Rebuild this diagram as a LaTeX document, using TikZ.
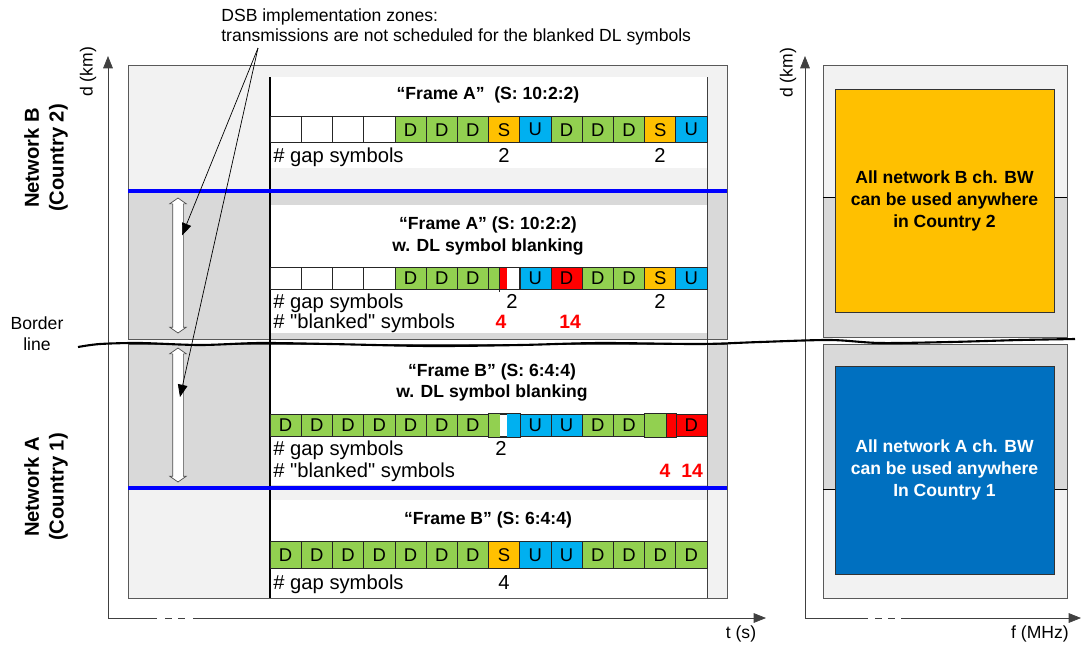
\documentclass[tikz,border=0pt]{standalone}
\usepackage{fontspec}
\setmainfont{Liberation Sans}
\usetikzlibrary{calc,positioning,arrows.meta,shapes.arrows}

\definecolor{dlGreen}{HTML}{92D050}
\definecolor{specOrange}{HTML}{FFC000}
\definecolor{ulBlue}{HTML}{00B0F0}
\definecolor{bwBlue}{HTML}{0070C0}
\definecolor{zoneLight}{HTML}{F2F2F2}
\definecolor{zoneDark}{HTML}{D9D9D9}
\definecolor{boxEdge}{HTML}{595959}
\definecolor{borderBlue}{HTML}{0000FF}

\begin{document}
\begin{tikzpicture}[x=0.02cm,y=-0.02cm,
    txt/.style={inner sep=0pt,font=\fontsize{11.5}{13}\selectfont},
    ttl/.style={inner sep=0pt,align=center,font=\bfseries\fontsize{10}{12.5}\selectfont},
    blanked/.style={inner sep=0pt,text=red,font=\bfseries\fontsize{11}{13}\selectfont},
    cell/.style={draw=black!85,inner sep=0pt,minimum width={31.2143*0.02cm},font=\fontsize{10.5}{12}\selectfont},
    axisline/.style={draw=black!75},
    zone/.style={double arrow,draw=black!70,fill=white,rotate=90,inner xsep=0pt,inner ysep={5*0.02cm},
      double arrow head extend={3*0.02cm},double arrow tip angle=110},
    bwbox/.style={draw=black!80,align=center,font=\bfseries\fontsize{10}{12.5}\selectfont},
    >={Triangle[length=7pt,width=5.5pt]}]

  \useasboundingbox (0,0) rectangle (1083,650);
  \def\cW{31.2143}

  % draw the zones of the time panel
  \fill[zoneLight] (128,65) rectangle (727,191);
  \fill[zoneDark] (128,191) rectangle (727,339);
  \fill[zoneDark] (128,344) rectangle (727,488);
  \fill[zoneLight] (128,488) rectangle (727,598);
  \draw[boxEdge] (128,65) rectangle (727,339);
  \draw[boxEdge] (128,344) rectangle (727,598);

  % white strips of the frames
  \foreach \ya/\yb in {77/168,205/333,345/485,500/598}
  \fill[white] (270,\ya) rectangle (707,\yb);
  \draw[black!75] (707,77) -- (707,598);
  \draw[line width=1pt] (270,77) -- (270,598);

  % network limits
  \foreach \yb in {191,488}
  \draw[borderBlue,line width=2pt] (128,\yb) -- (727,\yb);

  % draw the frame A
  \def\frameA{white/,white/,white/,white/,dlGreen/D,dlGreen/D,dlGreen/D,specOrange/S,ulBlue/U,dlGreen/D,dlGreen/D,dlGreen/D,specOrange/S,ulBlue/U}
  \foreach \fc/\sym [count=\ni] in \frameA
  \node[cell,fill=\fc,minimum height={26*0.02cm}] (fa\ni) at ({270+(\ni-0.5)*\cW},129.7) {\sym};
  \node[ttl] (ttlA) at (488,95) {``Frame A''\ \ (S: 10:2:2)};
  \node[txt,anchor=base west] (gapA) at (273,162.5) {\# gap symbols};
  \node[txt,anchor=base] (gapA1) at (504,162.5) {2};
  \node[txt,anchor=base] (gapA2) at (660,162.5) {2};

  % draw the frame A with blanking
  \def\frameAb{white/,white/,white/,white/,dlGreen/D,dlGreen/D,dlGreen/D,white/,ulBlue/U,red/D,dlGreen/D,dlGreen/D,specOrange/S,ulBlue/U}
  \foreach \fc/\sym [count=\ni] in \frameAb
  \node[cell,fill=\fc,minimum height={21.3*0.02cm}] (fab\ni) at ({270+(\ni-0.5)*\cW},278.35) {\sym};
  \fill[dlGreen] (488.5,267.7) rectangle (499.5,289);
  \fill[red] (499.5,267.7) rectangle (507,289);
  \draw[black!85] (499.5,267.7) -- (499.5,292);
  \draw[black!85] (fab8.north west) rectangle (fab8.south east);
  \node[ttl] (ttlAb) at (488,236) {``Frame A'' (S: 10:2:2)\\w. DL symbol blanking};
  \node[txt,anchor=base west] (gapAb) at (273,308) {\# gap symbols};
  \node[txt,anchor=base] (gapAb1) at (512,308) {2};
  \node[txt,anchor=base] (gapAb2) at (660,308) {2};
  \node[txt,anchor=base west] (blkAb) at (273,328) {\# \textquotedbl blanked\textquotedbl{} symbols};
  \node[blanked,anchor=base] (blkAb1) at (501,328) {4};
  \node[blanked,anchor=base] (blkAb2) at (570,328) {14};

  % draw the frame B with blanking
  \def\frameBb{dlGreen/D,dlGreen/D,dlGreen/D,dlGreen/D,dlGreen/D,dlGreen/D,dlGreen/D,white/,ulBlue/U,ulBlue/U,dlGreen/D,dlGreen/D,white/,red/D}
  \foreach \fc/\sym [count=\ni] in \frameBb
  \node[cell,fill=\fc,minimum height={22.7*0.02cm}] (fbb\ni) at ({270+(\ni-0.5)*\cW},425.35) {\sym};
  \fill[dlGreen] (488.5,414) rectangle (500,436.7);
  \fill[ulBlue] (507,414) rectangle (519.7,436.7);
  \draw[black!85] (fbb8.north west) rectangle (fbb8.south east);
  \fill[dlGreen] (644.6,414) rectangle (666,436.7);
  \fill[red] (666,414) rectangle (675.8,436.7);
  \draw[black!85] (666,414) -- (666,436.7);
  \draw[black!85] (fbb13.north west) rectangle (fbb13.south east);
  \node[ttl] (ttlBb) at (492,382.5) {``Frame B'' (S: 6:4:4)\\w. DL symbol blanking};
  \node[txt,anchor=base west] (gapBb) at (273,455) {\# gap symbols};
  \node[txt,anchor=base] (gapBb1) at (501,455) {2};
  \node[txt,anchor=base west] (blkBb) at (273,477) {\# \textquotedbl blanked\textquotedbl{} symbols};
  \node[blanked,anchor=base] (blkBb1) at (665,477) {4};
  \node[blanked,anchor=base] (blkBb2) at (692,477) {14};

  % draw the frame B
  \def\frameB{dlGreen/D,dlGreen/D,dlGreen/D,dlGreen/D,dlGreen/D,dlGreen/D,dlGreen/D,specOrange/S,ulBlue/U,ulBlue/U,dlGreen/D,dlGreen/D,dlGreen/D,dlGreen/D}
  \foreach \fc/\sym [count=\ni] in \frameB
  \node[cell,fill=\fc,minimum height={26.6*0.02cm}] (fb\ni) at ({270+(\ni-0.5)*\cW},555) {\sym};
  \node[ttl] (ttlB) at (488,520) {``Frame B'' (S: 6:4:4)};
  \node[txt,anchor=base west] (gapB) at (273,589) {\# gap symbols};
  \node[txt,anchor=base] (gapB1) at (504,589) {4};

  % draw the zones of the frequency panel
  \fill[zoneLight] (823,65) rectangle (1067,197);
  \fill[zoneDark] (823,197) rectangle (1067,337);
  \fill[zoneDark] (823,344) rectangle (1067,489);
  \fill[zoneLight] (823,489) rectangle (1067,598);
  \draw[boxEdge] (823,65) rectangle (1067,337);
  \draw[boxEdge] (823,344) rectangle (1067,598);
  \foreach \yb in {197,489}
  \draw (823,\yb) -- (1067,\yb);
  \node[bwbox,fill=specOrange,minimum width={219*0.02cm},minimum height={223*0.02cm}] (bwB) at (944.5,200.5)
    {All network B ch. BW\\can be used anywhere\\in Country 2};
  \node[bwbox,fill=bwBlue,text=white,minimum width={219*0.02cm},minimum height={208*0.02cm}] (bwA) at (944.5,470)
    {All network A ch. BW\\can be used anywhere\\In Country 1};

  % draw the axes
  \draw[axisline,<-] (108,56) -- (108,618) -- (157,618);
  \draw[axisline,<-] (805,56) -- (805,618) -- (868,618);
  \foreach \xa/\xb in {165/172,178/185,875/882,888/895}
  \draw[axisline] (\xa,618) -- (\xb,618);
  \draw[axisline,->] (193,618) -- (766,618);
  \draw[axisline,->] (901,618) -- (1081,618);
  \node[rotate=90,font=\fontsize{10}{12}\selectfont] (dT) at (88,72) {d (km)};
  \node[rotate=90,font=\fontsize{10}{12}\selectfont] (dF) at (788,73) {d (km)};
  \node[font=\fontsize{10}{12}\selectfont] (tAx) at (741,634) {t (s)};
  \node[font=\fontsize{10}{12}\selectfont] (fAx) at (1040,634) {f (MHz)};

  % the countries and the border
  \node[rotate=90,align=center,font=\bfseries\fontsize{11.5}{14}\selectfont] (netB) at (46,158) {Network B\\(Country 2)};
  \node[rotate=90,align=center,font=\bfseries\fontsize{11.5}{14}\selectfont] (netA) at (46,487) {Network A\\(Country 1)};
  \node[align=center,font=\fontsize{10}{12}\selectfont] (border) at (37,334) {Border\\line};
  \draw[line width=1.2pt] plot[smooth] coordinates {(78,347) (100,344) (140,343) (200,345) (260,343) (330,344)
    (430,346) (520,345) (600,343) (700,344) (760,342) (830,340) (880,343) (950,342) (1020,340) (1075,339)};

  % DSB zones
  \node[zone,minimum height={135*0.02cm}] (zoneB) at (178,265.5) {};
  \node[zone,minimum height={134*0.02cm}] (zoneA) at (178,415) {};
  \node[anchor=north west,align=left,inner sep=0pt,font=\fontsize{10}{11.5}\selectfont] (dsb) at (221,8)
    {DSB implementation zones:\\transmissions are not scheduled for the blanked DL symbols};
  \coordinate (dsbfoot) at (258,48);
  \draw[->] (dsbfoot) -- ($(zoneB.center)+(4,-30)$);
  \draw[->] (dsbfoot) -- ($(zoneA.center)+(2,-18)$);

\end{tikzpicture}
\end{document}
